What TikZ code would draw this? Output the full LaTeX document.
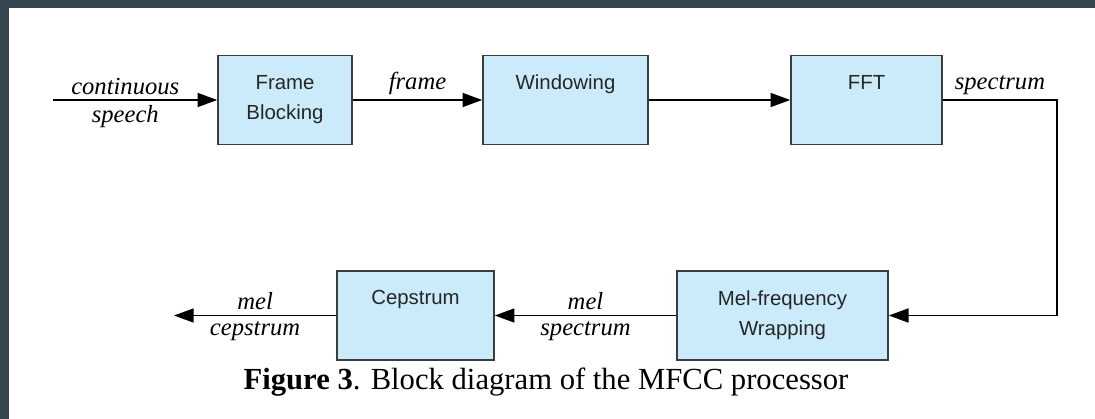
\documentclass[tikz,border=0pt]{standalone}
\usepackage{fontspec}
\setmainfont{Liberation Serif}
\setsansfont{Liberation Sans}
\usetikzlibrary{arrows.meta}
\definecolor{boxblue}{RGB}{204,235,250}
\definecolor{slate}{RGB}{55,71,79}
\definecolor{boxline}{RGB}{60,60,60}

\begin{document}
\begin{tikzpicture}[x=0.025cm,y=-0.025cm,
  block/.style={draw=boxline, line width=1.1pt, fill=boxblue, align=center, inner sep=0pt,
    font=\sffamily\fontsize{14.5}{21.5}\selectfont, text=black!85,
    text height=0.85cm, text depth=1.375cm},
  twoline/.style={text height=1.608cm, text depth=0.617cm},
  flow/.style={line width=1.1pt, -{Triangle[length=14pt,width=10pt]}},
  sig/.style={font=\itshape\fontsize{17.5}{19}\selectfont, inner sep=3.5pt}]
\fill[white] (0,0) rectangle (1095,419);
\fill[slate] (0,0) rectangle (1095,8);
\fill[slate] (0,0) rectangle (9,419);

\node[block, twoline, minimum width=3.35cm] (frame) at (285,100) {Frame\\Blocking};
\node[block, minimum width=4.125cm] (win) at (565.5,100) {Windowing};
\node[block, minimum width=3.775cm] (fft) at (866.5,100) {FFT};
\node[block, twoline, minimum width=5.275cm] (mel) at (782.5,315.5) {Mel-frequency\\Wrapping};
\node[block, minimum width=3.925cm] (cep) at (415.5,315.5) {Cepstrum};

\coordinate (speechin) at (53,100);
\coordinate (turn) at (1057,100);
\coordinate (cepout) at (174,315.5);

\draw[flow] (speechin) -- node[sig, above, pos=.44] {continuous} node[sig, below, pos=.44] {speech} (frame);
\draw[flow] (frame) -- node[sig, above] {frame} (win);
\draw[flow] (win) -- (fft);
\draw[flow] (fft) -- node[sig, above] {spectrum} (turn) |- (mel);
\draw[flow] (mel) -- node[sig, above] {mel} node[sig, below] {spectrum} (cep);
\draw[flow] (cep) -- node[sig, above] {mel} node[sig, below] {cepstrum} (cepout);

\node[font=\fontsize{21.8}{26}\selectfont, anchor=base] (caption) at (546,389) {\textbf{Figure 3}. Block diagram of the MFCC processor};
\end{tikzpicture}
\end{document}
